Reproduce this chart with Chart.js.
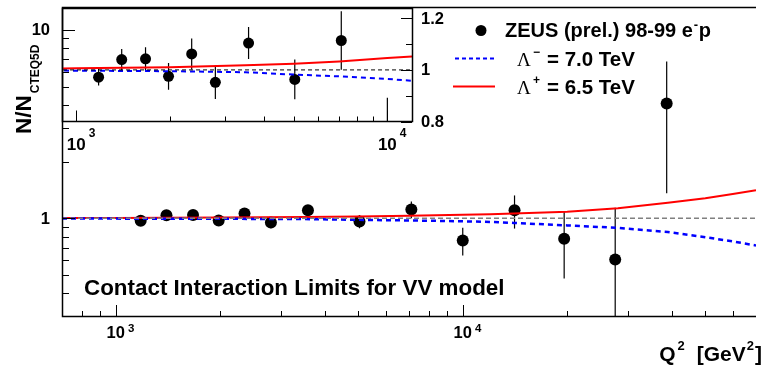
<!DOCTYPE html>
<html>
<head>
<meta charset="utf-8">
<script src="https://cdn.jsdelivr.net/npm/chart.js@4.4.0/dist/chart.umd.min.js"></script>
<style>
  body { margin: 0; background: #fff; }
  #wrap { position: relative; width: 762px; height: 368px; }
  #wrap canvas { position: absolute; left: 0; top: 0; }
</style>
</head>
<body>
<div id="wrap">
  <canvas id="mainChart" width="762" height="368"></canvas>
  <canvas id="insetChart" width="762" height="368"></canvas>
</div>
<script>
// ZEUS 98-99 e-p NC data, ratio to CTEQ5D expectation
const q2 = [1180, 1400, 1670, 1980, 2350, 2800, 3580, 5040, 7110, 10000, 14100, 19600, 27500, 38700];
const ratio = [0.972, 1.040, 1.043, 0.975, 1.062, 0.952, 1.104, 0.963, 1.114, 0.764, 1.103, 0.780, 0.605, 4.07];
const ratioErr = [0.032, 0.041, 0.045, 0.052, 0.060, 0.065, 0.062, 0.077, 0.113, 0.128, 0.220, 0.300, 0.535, 2.71];

// contact interaction curves (VV model)
const curveQ2 = [700, 1000, 2000, 3500, 5000, 7000, 10000, 12000, 14000, 20000, 28000, 39000, 50000, 60000, 70000];
const lambdaMinus = [0.998, 0.997, 0.995, 0.991, 0.982, 0.975, 0.965, 0.958, 0.946, 0.918, 0.890, 0.846, 0.795, 0.755, 0.718];
const lambdaPlus = [1.004, 1.006, 1.010, 1.018, 1.024, 1.033, 1.046, 1.052, 1.062, 1.085, 1.130, 1.210, 1.280, 1.345, 1.410];

// axis ranges and ticks
const mainXRange = [700, 70000];
const mainYRange = [0.3, 13.2];
const insetXRange = [900, 12000];
const insetYRange = [0.8, 1.24];
const mainXMajor = [1000, 10000];
const mainXMinor = [700, 800, 900, 2000, 3000, 4000, 5000, 6000, 7000, 8000, 9000, 20000, 30000, 40000, 50000, 60000];
const mainYMajor = [1, 10];
const mainYMinor = [0.4, 0.5, 0.6, 0.7, 0.8, 0.9, 2, 3, 4, 5, 6, 7, 8, 9];
const insetXMajor = [1000, 10000];
const insetXMinor = [2000, 3000, 4000, 5000, 6000, 7000, 8000, 9000];
const insetYMajor = [0.8, 1.0, 1.2];
const insetYMinor = [0.9, 1.1];
const insetYLabels = ['0.8', '1', '1.2'];

const FONT = '"Liberation Sans", Arial, Helvetica, sans-serif';
const SERIF = '"Liberation Serif", "Times New Roman", serif';

function pts(xs, ys) {
  return xs.map((x, i) => ({ x: x, y: ys[i] }));
}

function lineSet(xs, ys, color, width, dash) {
  return {
    data: pts(xs, ys),
    showLine: true,
    borderColor: color,
    borderWidth: width,
    borderDash: dash,
    pointRadius: 0,
    fill: false,
    clip: 0
  };
}

function clipArea(ctx, a) {
  ctx.beginPath();
  ctx.rect(a.left, a.top, a.right - a.left, a.bottom - a.top);
  ctx.clip();
}

function drawErrors(chart, width) {
  const { ctx, chartArea: a, scales: { x, y } } = chart;
  ctx.save();
  clipArea(ctx, a);
  ctx.strokeStyle = '#000';
  ctx.lineWidth = width;
  q2.forEach((q, i) => {
    const px = x.getPixelForValue(q);
    const lo = Math.max(ratio[i] - ratioErr[i], y.min);
    const hi = ratio[i] + ratioErr[i];
    ctx.beginPath();
    ctx.moveTo(px, y.getPixelForValue(lo));
    ctx.lineTo(px, y.getPixelForValue(hi));
    ctx.stroke();
  });
  ctx.restore();
}

// inward tick marks, ROOT style
function ticksX(ctx, scale, yPix, values, len) {
  values.forEach(v => {
    const px = Math.round(scale.getPixelForValue(v)) + 0.5;
    ctx.beginPath();
    ctx.moveTo(px, yPix);
    ctx.lineTo(px, yPix - len);
    ctx.stroke();
  });
}

function ticksY(ctx, scale, xPix, values, len) {
  values.forEach(v => {
    const py = Math.round(scale.getPixelForValue(v)) + 0.5;
    ctx.beginPath();
    ctx.moveTo(xPix, py);
    ctx.lineTo(xPix + len, py);
    ctx.stroke();
  });
}

// "10^n" label centred on the tick
function powerLabel(ctx, px, baseY, exp, size, supSize, rise) {
  ctx.font = 'bold ' + size + 'px ' + FONT;
  const w = ctx.measureText('10').width;
  ctx.textAlign = 'left';
  ctx.textBaseline = 'alphabetic';
  ctx.fillText('10', px - w / 2, baseY);
  ctx.font = 'bold ' + supSize + 'px ' + FONT;
  ctx.fillText(String(exp), px + w / 2 + 3, baseY - rise);
}

const mainDecor = {
  id: 'mainDecor',
  beforeDatasetsDraw(chart) {
    drawErrors(chart, 1.2);
  },
  afterDraw(chart) {
    const { ctx, chartArea: a, scales: { x, y } } = chart;
    ctx.save();
    ctx.fillStyle = '#000';
    ctx.strokeStyle = '#000';

    // frame
    ctx.lineWidth = 1.5;
    ctx.beginPath();
    ctx.moveTo(a.right, a.top + 0.5);
    ctx.lineTo(a.left + 0.5, a.top + 0.5);
    ctx.lineTo(a.left + 0.5, a.bottom - 0.5);
    ctx.lineTo(a.right, a.bottom - 0.5);
    ctx.stroke();

    ctx.lineWidth = 1;
    ticksX(ctx, x, a.bottom, mainXMajor, 12);
    ticksX(ctx, x, a.bottom, mainXMinor, 6);
    ticksY(ctx, y, a.left, mainYMajor, 13);
    ticksY(ctx, y, a.left, mainYMinor, 7);

    // tick labels
    mainXMajor.forEach(v => {
      powerLabel(ctx, x.getPixelForValue(v), 338, Math.round(Math.log10(v)), 16.5, 11.5, 6);
    });
    ctx.font = 'bold 16.5px ' + FONT;
    ctx.textAlign = 'right';
    ctx.textBaseline = 'middle';
    mainYMajor.forEach(v => {
      ctx.fillText(String(v), 50, y.getPixelForValue(v) + 1);
    });

    // x title: Q^2 [GeV^2]
    ctx.textBaseline = 'alphabetic';
    ctx.textAlign = 'left';
    const big = 'bold 21px ' + FONT;
    const sup = 'bold 13px ' + FONT;
    ctx.font = big;
    const wGeV = ctx.measureText('[GeV').width;
    const wBr = ctx.measureText(']').width;
    ctx.font = sup;
    const wTwo = ctx.measureText('2').width;
    let tx = 761 - wBr - wTwo - 1 - wGeV;
    ctx.font = big;
    ctx.fillText('[GeV', tx, 361);
    ctx.font = sup;
    ctx.fillText('2', tx + wGeV + 1, 350);
    ctx.font = big;
    ctx.fillText(']', tx + wGeV + wTwo + 2, 361);
    ctx.font = big;
    const wQ = ctx.measureText('Q').width;
    const qx = tx - 14 - wTwo - wQ;
    ctx.fillText('Q', qx, 361);
    ctx.font = sup;
    ctx.fillText('2', qx + wQ + 2, 350);

    // y title: N/N_CTEQ5D
    ctx.save();
    ctx.translate(31, 134);
    ctx.rotate(-Math.PI / 2);
    ctx.font = 'bold 22.5px ' + FONT;
    ctx.fillText('N/N', 0, 0);
    const wNN = ctx.measureText('N/N').width;
    ctx.font = 'bold 12px ' + FONT;
    ctx.fillText('CTEQ5D', wNN + 2, 8);
    ctx.restore();

    // model caption
    ctx.font = 'bold 22.4px ' + FONT;
    ctx.fillText('Contact Interaction Limits for VV model', 84, 295);

    // legend
    ctx.beginPath();
    ctx.arc(481, 30.5, 5.5, 0, Math.PI * 2);
    ctx.fill();
    ctx.font = 'bold 20px ' + FONT;
    const lead = 'ZEUS (prel.) 98-99 e';
    ctx.fillText(lead, 505, 37);
    const wLead = ctx.measureText(lead).width;
    ctx.font = 'bold 13px ' + FONT;
    ctx.fillText('-', 505 + wLead + 1, 29);
    ctx.font = 'bold 20px ' + FONT;
    ctx.fillText('p', 505 + wLead + 6, 37);

    ctx.lineWidth = 2;
    ctx.strokeStyle = '#0000ff';
    ctx.setLineDash([4, 3]);
    ctx.beginPath();
    ctx.moveTo(455, 58.5);
    ctx.lineTo(495, 58.5);
    ctx.stroke();
    ctx.setLineDash([]);
    ctx.strokeStyle = '#ff0000';
    ctx.beginPath();
    ctx.moveTo(453, 86.5);
    ctx.lineTo(495, 86.5);
    ctx.stroke();

    [['\u2212', '= 7.0 TeV', 66], ['+', '= 6.5 TeV', 94]].forEach(row => {
      ctx.font = '19px ' + SERIF;
      ctx.fillText('\u039B', 517, row[2]);
      ctx.font = 'bold 12px ' + FONT;
      ctx.fillText(row[0], 533, row[2] - 10);
      ctx.font = 'bold 20.5px ' + FONT;
      ctx.fillText(row[1], 547, row[2]);
    });
    ctx.restore();
  }
};

const insetDecor = {
  id: 'insetDecor',
  beforeDatasetsDraw(chart) {
    drawErrors(chart, 1.2);
  },
  afterDraw(chart) {
    const { ctx, chartArea: a, scales: { x, y } } = chart;
    ctx.save();
    ctx.fillStyle = '#000';
    ctx.strokeStyle = '#000';
    ctx.lineWidth = 1.5;
    ctx.strokeRect(a.left + 0.5, a.top + 0.5, a.right - a.left, a.bottom - a.top - 0.5);

    ctx.lineWidth = 1;
    ticksX(ctx, x, a.bottom, insetXMajor, 11);
    ticksX(ctx, x, a.bottom, insetXMinor, 5);
    // right-hand axis, ticks pointing in
    insetYMajor.concat(insetYMinor).forEach(v => {
      const py = Math.round(y.getPixelForValue(v)) + 0.5;
      const len = insetYMajor.includes(v) ? 11 : 6;
      ctx.beginPath();
      ctx.moveTo(a.right, py);
      ctx.lineTo(a.right - len, py);
      ctx.stroke();
    });

    insetXMajor.forEach(v => {
      powerLabel(ctx, x.getPixelForValue(v), 150, Math.round(Math.log10(v)), 17, 12, 13);
    });
    ctx.font = 'bold 16.5px ' + FONT;
    ctx.textAlign = 'left';
    ctx.textBaseline = 'middle';
    insetYMajor.forEach((v, i) => {
      ctx.fillText(insetYLabels[i], a.right + 9, y.getPixelForValue(v) + 1);
    });
    ctx.restore();
  }
};

function baseOptions(xr, yr, yType, pad) {
  return {
    responsive: false,
    animation: false,
    events: [],
    layout: { padding: pad },
    plugins: { legend: { display: false }, tooltip: { enabled: false } },
    scales: {
      x: { type: 'logarithmic', min: xr[0], max: xr[1], display: false },
      y: { type: yType, min: yr[0], max: yr[1], display: false }
    }
  };
}

const unityX = [mainXRange[0], mainXRange[1]];
const unityY = [1, 1];

new Chart(document.getElementById('mainChart'), {
  type: 'scatter',
  data: {
    datasets: [
      lineSet(unityX, unityY, '#808080', 1.5, [5, 3]),
      lineSet(curveQ2, lambdaMinus, '#0000ff', 2.5, [5, 4]),
      lineSet(curveQ2, lambdaPlus, '#ff0000', 2, []),
      {
        data: pts(q2, ratio),
        pointRadius: 6,
        pointBackgroundColor: '#000',
        pointBorderWidth: 0,
        showLine: false,
        clip: 0
      }
    ]
  },
  options: baseOptions(mainXRange, mainYRange, 'logarithmic', { left: 62, top: 7, right: 0, bottom: 51 }),
  plugins: [mainDecor]
});

new Chart(document.getElementById('insetChart'), {
  type: 'scatter',
  data: {
    datasets: [
      lineSet(unityX, unityY, '#000', 1, [4, 3]),
      lineSet(curveQ2, lambdaMinus, '#0000ff', 2, [5, 4]),
      lineSet(curveQ2, lambdaPlus, '#ff0000', 2, []),
      {
        data: pts(q2, ratio),
        pointRadius: 5.5,
        pointBackgroundColor: '#000',
        pointBorderWidth: 0,
        showLine: false,
        clip: 0
      }
    ]
  },
  options: baseOptions(insetXRange, insetYRange, 'linear', { left: 62, top: 8, right: 350, bottom: 246.5 }),
  plugins: [insetDecor]
});
</script>
</body>
</html>
